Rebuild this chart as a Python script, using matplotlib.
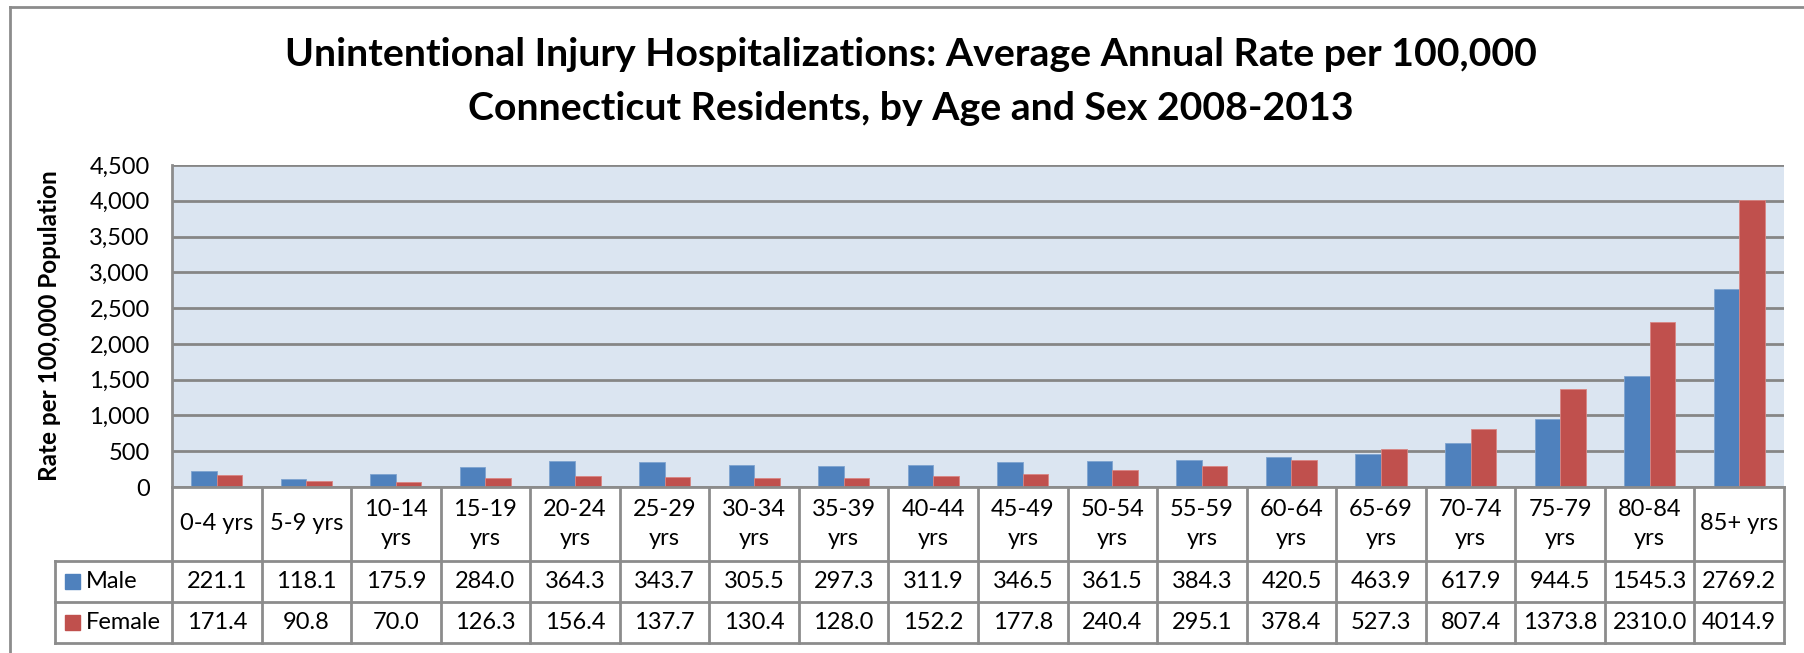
import matplotlib
matplotlib.use('Agg')
import matplotlib.pyplot as plt
import matplotlib.transforms as mtransforms
import numpy as np

plt.rcParams['font.family'] = ['Lato', 'DejaVu Sans']

# data
ages = ['0-4 yrs', '5-9 yrs', '10-14\nyrs', '15-19\nyrs', '20-24\nyrs', '25-29\nyrs',
        '30-34\nyrs', '35-39\nyrs', '40-44\nyrs', '45-49\nyrs', '50-54\nyrs', '55-59\nyrs',
        '60-64\nyrs', '65-69\nyrs', '70-74\nyrs', '75-79\nyrs', '80-84\nyrs', '85+ yrs']
male = [221.1, 118.1, 175.9, 284.0, 364.3, 343.7, 305.5, 297.3, 311.9, 346.5,
        361.5, 384.3, 420.5, 463.9, 617.9, 944.5, 1545.3, 2769.2]
female = [171.4, 90.8, 70.0, 126.3, 156.4, 137.7, 130.4, 128.0, 152.2, 177.8,
          240.4, 295.1, 378.4, 527.3, 807.4, 1373.8, 2310.0, 4014.9]
yticks = [0, 500, 1000, 1500, 2000, 2500, 3000, 3500, 4000, 4500]

blue = '#4f81bd'
red = '#c0504d'
grid_c = '#868686'
tab_c = '#8c8c8c'
fs = 17

W, H = 1804, 653
fig = plt.figure(figsize=(W / 100, H / 100), dpi=100)

# plot area in pixels
x0, x1 = 172, 1784
y_top, y_zero = 165, 487
ax = fig.add_axes([x0 / W, 1 - y_zero / H, (x1 - x0) / W, (y_zero - y_top) / H])
ax.set_facecolor('#dbe5f1')

n = len(ages)
x = np.arange(n)
w = 1 / 3.5
ax.bar(x - w / 2, male, w, color=blue, edgecolor='#7ea3d0', linewidth=0.6, zorder=3)
ax.bar(x + w / 2, female, w, color=red, edgecolor='#d98583', linewidth=0.6, zorder=3)

ax.set_xlim(-0.5, n - 0.5)
ax.set_ylim(0, 4500)
ax.set_yticks(yticks)
ax.set_yticklabels(['{:,}'.format(v) for v in yticks], fontsize=fs)
ax.tick_params(axis='y', length=0, pad=16)
ax.set_xticks([])
ax.yaxis.grid(True, color=grid_c, linewidth=2, zorder=0)
for s in ['top', 'right', 'bottom']:
    ax.spines[s].set_visible(False)
ax.spines['left'].set_color(tab_c)
ax.spines['left'].set_linewidth(2)

ax.set_ylabel('Rate per 100,000 Population', fontsize=17.5, fontweight='bold')
ax.yaxis.set_label_coords((61 - x0) / (x1 - x0), (y_zero - 326) / (y_zero - y_top))

# data table below the plot
ph = y_zero - y_top
def ay(py):
    return -(py - y_zero) / ph

r_cat, r_m, r_f = ay(561), ay(602), ay(643)
tr = mtransforms.blended_transform_factory(ax.transData, ax.transAxes)
lk = dict(color=tab_c, linewidth=2, clip_on=False, transform=tr, zorder=5)
xl = (55 - x0) / (x1 - x0)

# horizontal lines
ax.plot([-0.5, n - 0.5], [0, 0], **lk)
for r in [r_cat, r_m, r_f]:
    ax.add_line(plt.Line2D([xl, 1], [r, r], color=tab_c, linewidth=2,
                           transform=ax.transAxes, clip_on=False))
ax.add_line(plt.Line2D([xl, xl], [r_cat, r_f], color=tab_c, linewidth=2,
                       transform=ax.transAxes, clip_on=False))
# vertical lines
for b in np.arange(n + 1) - 0.5:
    ax.plot([b, b], [0, r_f], **lk)

for i in range(n):
    ax.text(i, (0 + r_cat) / 2, ages[i], transform=tr, ha='center', va='center',
            fontsize=fs, linespacing=1.5)
    ax.text(i, (r_cat + r_m) / 2, '%.1f' % male[i], transform=tr, ha='center', va='center',
            fontsize=fs)
    ax.text(i, (r_m + r_f) / 2, '%.1f' % female[i], transform=tr, ha='center', va='center',
            fontsize=fs)

# legend keys in the table
for lab, col, r0, r1 in [('Male', blue, r_cat, r_m), ('Female', red, r_m, r_f)]:
    yc = (r0 + r1) / 2
    fig.patches.append(plt.Rectangle((65 / W, 1 - (y_zero - yc * ph + 7.5) / H), 15 / W, 15 / H,
                                     color=col, transform=fig.transFigure))
    fig.text(86 / W, 1 - (y_zero - yc * ph) / H, lab, fontsize=fs, va='center', ha='left')

# title
fig.text(911 / W, 1 - 55 / H, 'Unintentional Injury Hospitalizations: Average Annual Rate per 100,000',
         ha='center', va='center', fontsize=28.3, fontweight='bold')
fig.text(911 / W, 1 - 109 / H, 'Connecticut Residents, by Age and Sex 2008-2013',
         ha='center', va='center', fontsize=28.3, fontweight='bold')

# outer frame
fig.add_artist(plt.Line2D([10 / W, 10 / W], [0, 1 - 7 / H], color='#8c8c8c', linewidth=2,
                          transform=fig.transFigure))
fig.add_artist(plt.Line2D([10 / W, 1], [1 - 7 / H, 1 - 7 / H], color='#8c8c8c', linewidth=2,
                          transform=fig.transFigure))

fig.savefig('out.png', dpi=100)
